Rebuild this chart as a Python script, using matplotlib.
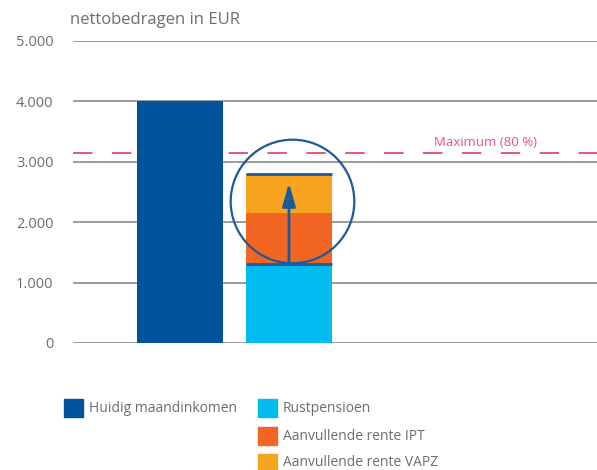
import matplotlib.pyplot as plt
import matplotlib.patches as mpatches

# data (EUR net per month)
bar_positions = [0, 1]
current_income = [4000, 0]
rustpensioen = [0, 1300]
rente_ipt = [0, 850]
rente_vapz = [0, 650]
maximum = 3150
y_ticks = [0, 1000, 2000, 3000, 4000, 5000]
y_labels = ["0", "1.000", "2.000", "3.000", "4.000", "5.000"]

c_dark = "#00529b"
c_light = "#00bbf0"
c_orange = "#f26522"
c_yellow = "#f7a51e"
c_line = "#1c5a9c"
c_pink = "#e8557c"
c_grid = "#9b9b9b"
c_text = "#6d6d6d"

plt.rcParams['font.family'] = ['Open Sans', 'DejaVu Sans']

fig = plt.figure(figsize=(5.97, 4.70), dpi=100)
ax = fig.add_axes([73 / 597, 127 / 470, 524 / 597, 302 / 470])

ax.set_ylim(0, 5000)
ax.set_xlim(-0.982, 3.826)
for t in y_ticks:
    ax.axhline(t, color=c_grid, lw=1.4, zorder=0)

w = 0.79
ax.bar(bar_positions[0], current_income[0], width=w, color=c_dark, zorder=2)
b2 = bar_positions[1]
ax.bar(b2, rustpensioen[1], width=w, color=c_light, zorder=2)
ax.bar(b2, rente_ipt[1], bottom=rustpensioen[1], width=w, color=c_orange, zorder=2)
top_ipt = rustpensioen[1] + rente_ipt[1]
ax.bar(b2, rente_vapz[1], bottom=top_ipt, width=w, color=c_yellow, zorder=2)
total = top_ipt + rente_vapz[1]

# dark edges on the pension bar
ax.plot([b2 - w / 2, b2 + w / 2], [rustpensioen[1]] * 2, color=c_line, lw=2, zorder=3, solid_capstyle='butt')
ax.plot([b2 - w / 2, b2 + w / 2], [total] * 2, color=c_line, lw=2, zorder=3, solid_capstyle='butt')

# arrow + circle
ax.annotate('', xy=(b2, total - 150), xytext=(b2, rustpensioen[1]),
            arrowprops=dict(arrowstyle='-|>,head_length=1.4,head_width=0.4', lw=2,
                            color=c_line, shrinkA=0, shrinkB=0), zorder=4)
ax.plot([b2 + 0.03], [2350], marker='o', markersize=89, markerfacecolor='none',
        markeredgecolor=c_line, markeredgewidth=1.6, zorder=4)

# maximum line
ax.axhline(maximum, color=c_pink, lw=1.4, dashes=(10, 10), zorder=1)
ax.text(2.8, maximum + 70, "Maximum (80 %)", color=c_pink, fontsize=9.5,
        ha='center', va='bottom')

ax.set_yticks(y_ticks)
ax.set_yticklabels(y_labels)
ax.tick_params(axis='y', length=0, pad=14, labelsize=10.5, labelcolor=c_text)
ax.set_xticks([])
for s in ax.spines.values():
    s.set_visible(False)

fig.text(70 / 597, 1 - 20 / 470, "nettobedragen in EUR", fontsize=12, color=c_text,
         ha='left', va='center')

# legend
legend_items = [
    (64, 408, c_dark, "Huidig maandinkomen"),
    (258, 408, c_light, "Rustpensioen"),
    (258, 436, c_orange, "Aanvullende rente IPT"),
    (258, 463, c_yellow, "Aanvullende rente VAPZ"),
]
for x, y, col, label in legend_items:
    fig.patches.append(mpatches.Rectangle((x / 597, 1 - (y + 9) / 470), 19 / 597, 18 / 470,
                                          color=col, transform=fig.transFigure))
    fig.text((x + 25) / 597, 1 - y / 470, label, fontsize=10, color=c_text,
             ha='left', va='center')

fig.savefig("out.png", dpi=100)
